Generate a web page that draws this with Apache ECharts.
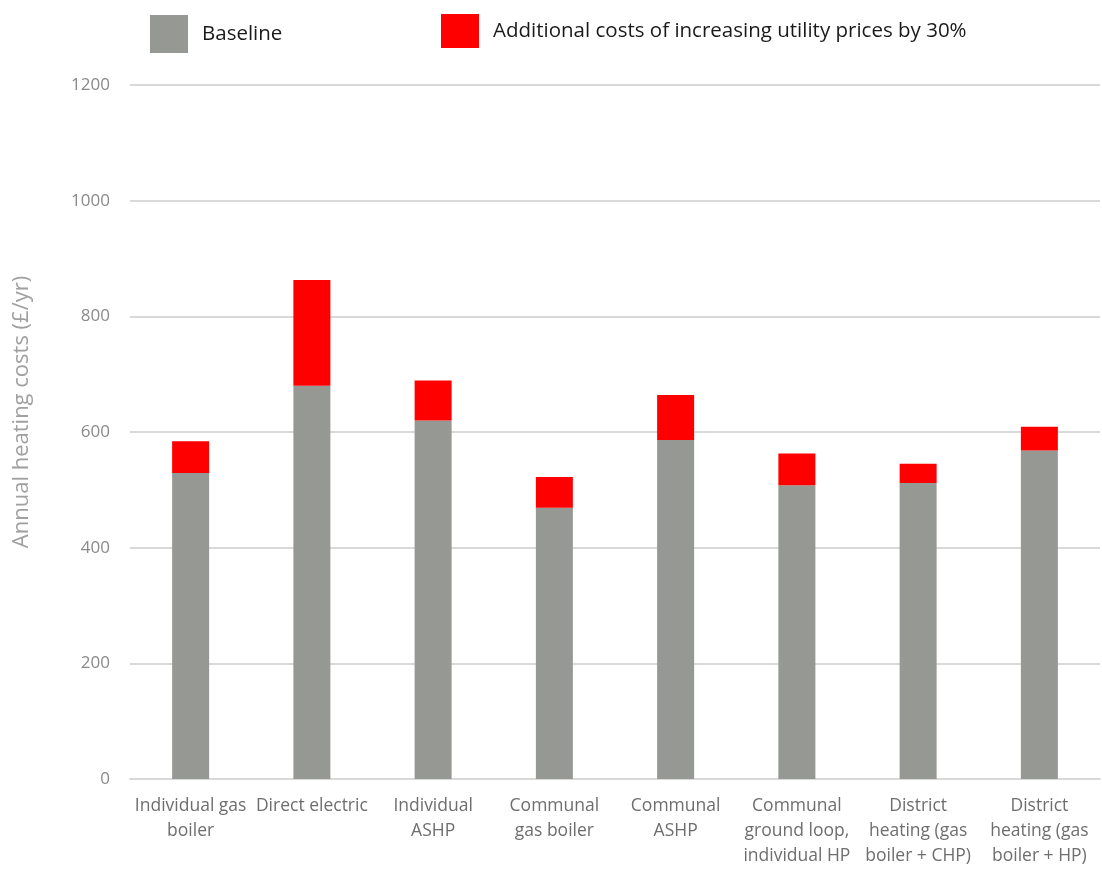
<!DOCTYPE html>
<html>
<head>
<meta charset="utf-8">
<script src="https://cdn.jsdelivr.net/npm/echarts@6/dist/echarts.min.js"></script>
<style>
  html, body { margin: 0; padding: 0; background: #fff; }
  #chart { width: 1102px; height: 869px; }
</style>
</head>
<body>
<div id="chart"></div>
<script>
// Heating system options (line breaks set where the axis labels wrap)
const categories = [
  'Individual gas\nboiler',
  'Direct electric',
  'Individual\nASHP',
  'Communal\ngas boiler',
  'Communal\nASHP',
  'Communal\nground loop,\nindividual HP',
  'District\nheating (gas\nboiler + CHP)',
  'District\nheating (gas\nboiler + HP)'
];

// Annual heating costs, £/yr
const baseline = [529, 680, 620, 469, 586, 508, 512, 568];
// Extra cost when utility prices rise by 30%
const additional = [55, 183, 69, 53, 78, 55, 33, 41];

const yTicks = { min: 0, max: 1200, interval: 200 };

const FONT = '"Open Sans", Lato, sans-serif';
const seriesNames = ['Baseline', 'Additional costs of increasing utility prices by 30%'];

const chart = echarts.init(document.getElementById('chart'));
chart.setOption({
  animation: false,
  textStyle: { fontFamily: FONT },
  legend: [
    {
      data: [seriesNames[0]],
      icon: 'rect',
      left: 145, top: 10,
      itemWidth: 38, itemHeight: 38,
      textStyle: { fontSize: 20.5, color: '#1a1a1a', fontFamily: FONT, padding: [0, 0, 8, 9] }
    },
    {
      data: [seriesNames[1]],
      icon: 'rect',
      left: 436, top: 9,
      itemWidth: 38, itemHeight: 34,
      textStyle: { fontSize: 20.5, color: '#1a1a1a', fontFamily: FONT, padding: [0, 0, 2, 9] }
    }
  ],
  grid: { left: 130, right: 2, top: 85, bottom: 81, containLabel: false },
  xAxis: {
    type: 'category',
    data: categories,
    axisLine: { show: true, lineStyle: { color: '#d9d9d9', width: 2 } },
    axisTick: { show: false },
    axisLabel: {
      interval: 0,
      color: '#6e6e6e',
      fontSize: 17.5,
      lineHeight: 25,
      margin: 15,
      fontFamily: FONT
    }
  },
  yAxis: {
    type: 'value',
    min: yTicks.min, max: yTicks.max, interval: yTicks.interval,
    axisLine: { show: false },
    axisTick: { show: false },
    splitLine: { lineStyle: { color: '#d9d9d9', width: 2 } },
    axisLabel: {
      color: '#8a8a8a', fontSize: 17, margin: 20, fontFamily: FONT,
      formatter: v => String(v)
    }
  },
  graphic: [{
    type: 'text',
    rotation: Math.PI / 2,
    x: 22,
    y: 412,
    style: {
      text: 'Annual heating costs (£/yr)',
      fontSize: 22,
      fill: '#a0a0a0',
      fontFamily: FONT,
      textAlign: 'center',
      textVerticalAlign: 'middle'
    }
  }],
  series: [
    {
      name: seriesNames[0],
      type: 'bar',
      stack: 'total',
      barWidth: 37,
      data: baseline,
      itemStyle: { color: '#959893' }
    },
    {
      name: seriesNames[1],
      type: 'bar',
      stack: 'total',
      barWidth: 37,
      data: additional,
      itemStyle: { color: '#ff0000' }
    }
  ]
});
</script>
</body>
</html>
